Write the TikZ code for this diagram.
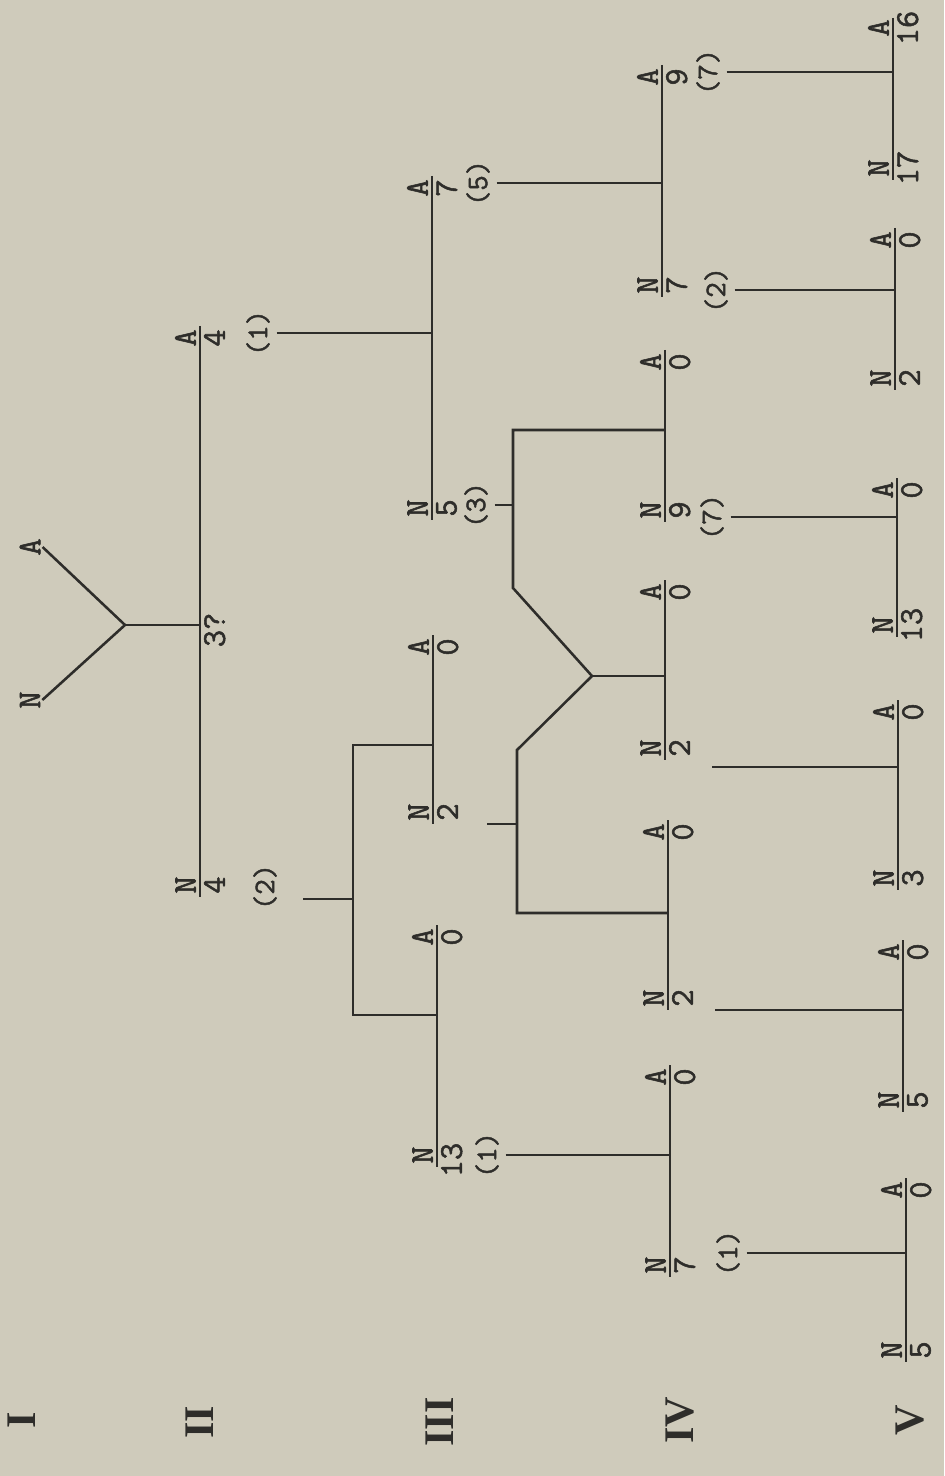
\documentclass[tikz,border=0pt]{standalone}
\usepackage{fontspec}
\usepackage{xcolor}
\usepackage{tikz}
\setmainfont{Liberation Serif}
\newfontfamily\typefont[FakeBold=1.6]{Latin Modern Mono}
\definecolor{paper}{HTML}{CFCBBB}
\definecolor{ink}{HTML}{2E2D2A}

\begin{document}
\begin{tikzpicture}[x=0.02cm,y=-0.02cm,
  kin/.style={draw=ink,line width=1.45pt},
  sym/.style={rotate=90,anchor=south,inner sep=1pt,text=ink,
    font=\typefont\fontsize{19}{19}\selectfont},
  num/.style={rotate=90,anchor=north,inner sep=1pt,text=ink,
    font=\typefont\fontsize{19}{19}\selectfont},
  ord/.style={rotate=90,inner sep=1pt,outer sep=3pt,text=ink,
    font=\typefont\fontsize{17}{17}\selectfont},
  tag/.style={rotate=90,inner sep=1pt,text=ink,
    font=\typefont\fontsize{19}{19}\selectfont},
  gen/.style={rotate=90,text=ink,font=\bfseries\fontsize{24}{24}\selectfont}]

  \fill[paper] (0,0) rectangle (944,1476);

  \node[gen] (rI) at (22,1420) {I};
  \node[gen] (rII) at (200,1422) {II};
  \node[gen] (rIII) at (440,1422) {III};
  \node[gen] (rIV) at (680,1420) {IV};
  \node[gen] (rV) at (910,1420) {V};

  \coordinate (m2t) at (200,326);  \coordinate (m2b) at (200,897);
  \coordinate (m3at) at (432,176); \coordinate (m3ab) at (432,520);
  \coordinate (m3bt) at (433,635); \coordinate (m3bb) at (433,824);
  \coordinate (m3ct) at (437,925); \coordinate (m3cb) at (437,1167);
  \coordinate (m4at) at (662,65);  \coordinate (m4ab) at (662,297);
  \coordinate (m4bt) at (665,350); \coordinate (m4bb) at (665,522);
  \coordinate (m4ct) at (665,580); \coordinate (m4cb) at (665,760);
  \coordinate (m4dt) at (668,820); \coordinate (m4db) at (668,1010);
  \coordinate (m4et) at (670,1065); \coordinate (m4eb) at (670,1277);
  \coordinate (m5at) at (893,18);  \coordinate (m5ab) at (893,180);
  \coordinate (m5bt) at (895,228); \coordinate (m5bb) at (895,390);
  \coordinate (m5ct) at (897,478); \coordinate (m5cb) at (897,637);
  \coordinate (m5dt) at (898,700); \coordinate (m5db) at (898,890);
  \coordinate (m5et) at (903,940); \coordinate (m5eb) at (903,1112);
  \coordinate (m5ft) at (906,1178); \coordinate (m5fb) at (906,1362);

  \node[tag] (aI) at (30,547) {A};
  \node[tag] (nI) at (30,700) {N};
  \coordinate (root) at (125,625);

  \node[sym] (m2A) at (198,338) {A}; \node[num] (m2An) at (202,338) {4};
  \node[ord] (m2Ao) at (258,333) {(1)};
  \node[sym] (m2N) at (198,885) {N}; \node[num] (m2Nn) at (202,885) {4};
  \node[ord] (m2No) at (265,887) {(2)};
  \node[num] (m2q) at (202,630) {3?};

  \node[sym] (m3aA) at (430,188) {A}; \node[num] (m3aAn) at (434,188) {7};
  \node[ord] (m3aAo) at (478,183) {(5)};
  \node[sym] (m3aN) at (430,508) {N}; \node[num] (m3aNn) at (434,508) {5};
  \node[ord] (m3aNo) at (476,505) {(3)};
  \node[sym] (m3bA) at (431,647) {A}; \node[num] (m3bAn) at (435,647) {0};
  \node[sym] (m3bN) at (431,812) {N}; \node[num] (m3bNn) at (435,812) {2};
  \node[sym] (m3cA) at (435,937) {A}; \node[num] (m3cAn) at (439,937) {0};
  \node[sym] (m3cN) at (435,1155) {N}; \node[num] (m3cNn) at (439,1160) {13};
  \node[ord] (m3cNo) at (487,1155) {(1)};

  \node[sym] (m4aA) at (660,77) {A}; \node[num] (m4aAn) at (664,77) {9};
  \node[ord] (m4aAo) at (708,72) {(7)};
  \node[sym] (m4aN) at (660,285) {N}; \node[num] (m4aNn) at (664,285) {7};
  \node[ord] (m4aNo) at (716,290) {(2)};
  \node[sym] (m4bA) at (663,362) {A}; \node[num] (m4bAn) at (667,362) {0};
  \node[sym] (m4bN) at (663,510) {N}; \node[num] (m4bNn) at (667,510) {9};
  \node[ord] (m4bNo) at (712,517) {(7)};
  \node[sym] (m4cA) at (663,592) {A}; \node[num] (m4cAn) at (667,592) {0};
  \node[sym] (m4cN) at (663,748) {N}; \node[num] (m4cNn) at (667,748) {2};
  \node[sym] (m4dA) at (666,832) {A}; \node[num] (m4dAn) at (670,832) {0};
  \node[sym] (m4dN) at (666,998) {N}; \node[num] (m4dNn) at (670,998) {2};
  \node[sym] (m4eA) at (668,1077) {A}; \node[num] (m4eAn) at (672,1077) {0};
  \node[sym] (m4eN) at (668,1265) {N}; \node[num] (m4eNn) at (672,1265) {7};
  \node[ord] (m4eNo) at (728,1253) {(1)};

  \node[sym] (m5aA) at (891,28) {A}; \node[num] (m5aAn) at (895,28) {16};
  \node[sym] (m5aN) at (891,168) {N}; \node[num] (m5aNn) at (895,168) {17};
  \node[sym] (m5bA) at (893,240) {A}; \node[num] (m5bAn) at (897,240) {0};
  \node[sym] (m5bN) at (893,378) {N}; \node[num] (m5bNn) at (897,378) {2};
  \node[sym] (m5cA) at (895,490) {A}; \node[num] (m5cAn) at (899,490) {0};
  \node[sym] (m5cN) at (895,625) {N}; \node[num] (m5cNn) at (899,625) {13};
  \node[sym] (m5dA) at (896,712) {A}; \node[num] (m5dAn) at (900,712) {0};
  \node[sym] (m5dN) at (896,878) {N}; \node[num] (m5dNn) at (900,878) {3};
  \node[sym] (m5eA) at (901,952) {A}; \node[num] (m5eAn) at (905,952) {0};
  \node[sym] (m5eN) at (901,1100) {N}; \node[num] (m5eNn) at (905,1100) {5};
  \node[sym] (m5fA) at (904,1190) {A}; \node[num] (m5fAn) at (908,1190) {0};
  \node[sym] (m5fN) at (904,1350) {N}; \node[num] (m5fNn) at (908,1350) {5};

  \coordinate (b2t) at (353,745); \coordinate (b2m) at (353,899);
  \coordinate (b2b) at (353,1015); \coordinate (s2) at (303,899);
  \coordinate (k1) at (513,430); \coordinate (k2) at (513,588);
  \coordinate (fork) at (592,676);
  \coordinate (k3) at (517,750); \coordinate (k4) at (517,913);
  \coordinate (s3b) at (487,824);
  \coordinate (s4c) at (712,767); \coordinate (s4d) at (715,1010);

  \draw[kin] (aI.south) -- (root);
  \draw[kin] (nI.south) -- (root);
  \draw[kin] (root) -- (root -| m2t);

  \draw[kin] (m2t) -- (m2b);
  \draw[kin] (m3at) -- (m3ab);
  \draw[kin] (m3bt) -- (m3bb);
  \draw[kin] (m3ct) -- (m3cb);
  \draw[kin] (m4at) -- (m4ab);
  \draw[kin] (m4bt) -- (m4bb);
  \draw[kin] (m4ct) -- (m4cb);
  \draw[kin] (m4dt) -- (m4db);
  \draw[kin] (m4et) -- (m4eb);
  \draw[kin] (m5at) -- (m5ab);
  \draw[kin] (m5bt) -- (m5bb);
  \draw[kin] (m5ct) -- (m5cb);
  \draw[kin] (m5dt) -- (m5db);
  \draw[kin] (m5et) -- (m5eb);
  \draw[kin] (m5ft) -- (m5fb);

  \draw[kin] (m2Ao.south) -- (m2Ao.south -| m3at);
  \draw[kin] (s2) -- (b2m);
  \draw[kin] (b2t -| m3bt) -- (b2t) -- (b2b) -- (b2b -| m3ct);

  \draw[kin] (m3aAo.south) -- (m3aAo.south -| m4at);
  \draw[kin] (m3aNo.south) -- (m3aNo.south -| k1);
  \draw[kin] (k1 -| m4bt) -- (k1) -- (k2) -- (fork) -- (k3) -- (k4) -- (k4 -| m4dt);
  \draw[kin] (fork) -- (fork -| m4ct);
  \draw[kin] (s3b) -- (s3b -| k3);
  \draw[kin] (m3cNo.south) -- (m3cNo.south -| m4et);

  \draw[kin] (m4aAo.south) -- (m4aAo.south -| m5at);
  \draw[kin] (m4aNo.south) -- (m4aNo.south -| m5bt);
  \draw[kin] (m4bNo.south) -- (m4bNo.south -| m5ct);
  \draw[kin] (s4c) -- (s4c -| m5dt);
  \draw[kin] (s4d) -- (s4d -| m5et);
  \draw[kin] (m4eNo.south) -- (m4eNo.south -| m5ft);
\end{tikzpicture}
\end{document}
